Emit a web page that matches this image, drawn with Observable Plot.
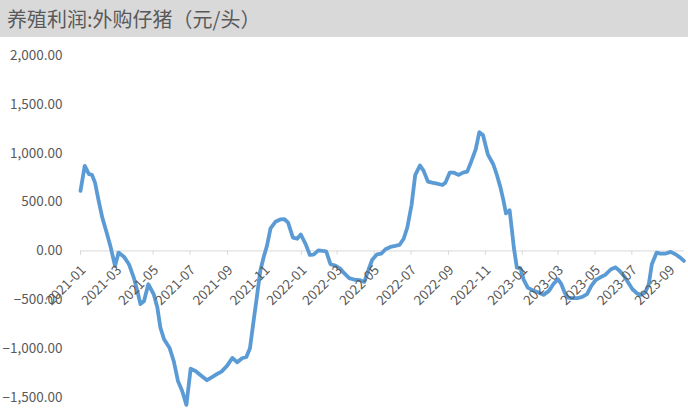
<!DOCTYPE html>
<html><head><meta charset="utf-8">
<script src="https://cdn.jsdelivr.net/npm/d3@7"></script>
<script src="https://cdn.jsdelivr.net/npm/@observablehq/plot@0.6"></script>
<style>
body{margin:0;background:#fff;width:688px;height:417px;overflow:hidden;font-family:"Noto Sans CJK SC","Noto Sans",sans-serif;}
#title{height:37px;background:#d9d9d9;color:#595959;font-size:20px;line-height:37px;padding-left:7px;white-space:nowrap;box-sizing:border-box;}
#chart svg{display:block;}
</style></head><body>
<div id="title">养殖利润:外购仔猪（元/头）</div>
<div id="chart"></div>
<script>
const dates = [
"2021-01-01","2021-01-08","2021-01-15","2021-01-20","2021-01-25","2021-01-31","2021-02-06","2021-02-14","2021-02-20","2021-02-27",
"2021-03-05","2021-03-14","2021-03-22","2021-03-30","2021-04-05","2021-04-10","2021-04-16","2021-04-23","2021-05-02","2021-05-08",
"2021-05-13","2021-05-19","2021-05-28","2021-06-04","2021-06-11","2021-06-18","2021-06-25","2021-07-02","2021-07-10","2021-07-18",
"2021-07-29","2021-08-07","2021-08-13","2021-08-22","2021-08-31","2021-09-09","2021-09-17","2021-09-25","2021-10-02","2021-10-08",
"2021-10-14","2021-10-20","2021-10-25","2021-10-31","2021-11-05","2021-11-11","2021-11-19","2021-11-27","2021-12-04","2021-12-10",
"2021-12-18","2021-12-25","2021-12-31","2022-01-08","2022-01-15","2022-01-21","2022-01-29","2022-02-05","2022-02-11","2022-02-18",
"2022-02-26","2022-03-06","2022-03-13","2022-03-21","2022-03-30","2022-04-07","2022-04-15","2022-04-22","2022-04-28","2022-05-06",
"2022-05-13","2022-05-20","2022-05-28","2022-06-05","2022-06-12","2022-06-19","2022-06-25","2022-07-02","2022-07-08","2022-07-16",
"2022-07-22","2022-07-29","2022-08-05","2022-08-13","2022-08-22","2022-08-27","2022-09-03","2022-09-10","2022-09-18","2022-09-25",
"2022-10-02","2022-10-09","2022-10-16","2022-10-22","2022-10-28","2022-11-05","2022-11-14","2022-11-20","2022-11-26","2022-12-01",
"2022-12-05","2022-12-11","2022-12-15","2022-12-18","2022-12-23","2022-12-29","2023-01-03","2023-01-10","2023-01-20","2023-01-28",
"2023-02-05","2023-02-14","2023-02-22","2023-03-01","2023-03-06","2023-03-12","2023-03-17","2023-03-24","2023-04-02","2023-04-10",
"2023-04-18","2023-04-25","2023-05-02","2023-05-10","2023-05-18","2023-05-27","2023-06-04","2023-06-11","2023-06-18","2023-06-25",
"2023-07-02","2023-07-10","2023-07-16","2023-07-23","2023-07-29","2023-08-03","2023-08-11","2023-08-17","2023-08-26","2023-09-03",
"2023-09-11","2023-09-19","2023-09-25"
];
const values = [
614,870,785,778,699,512,341,171,34,-153,
-17,-61,-136,-273,-409,-545,-512,-341,-443,-580,
-785,-904,-990,-1126,-1330,-1433,-1575,-1205,-1228,-1269,
-1323,-1289,-1265,-1235,-1177,-1095,-1140,-1098,-1085,-995,
-716,-443,-205,-55,50,230,298,322,324,290,
136,125,168,70,-41,-38,5,0,-5,-136,
-150,-180,-230,-278,-295,-298,-317,-190,-90,-34,
-27,17,41,51,61,125,240,470,775,875,
819,709,699,689,675,699,801,801,778,801,
812,921,1040,1215,1187,989,887,778,648,512,
385,416,205,34,-171,-177,-290,-375,-409,-426,
-450,-409,-334,-290,-334,-426,-477,-484,-484,-471,
-443,-358,-300,-270,-245,-190,-168,-205,-256,-324,
-392,-437,-450,-426,-341,-136,-17,-27,-27,-10,
-34,-68,-102
];
const yTicks = [-1500,-1000,-500,0,500,1000,1500,2000];
const xTickLabels = ["2021-01","2021-03","2021-05","2021-07","2021-09","2021-11",
"2022-01","2022-03","2022-05","2022-07","2022-09","2022-11",
"2023-01","2023-03","2023-05","2023-07","2023-09"];

const parseDay = d3.utcParse("%Y-%m-%d");
const parseMonth = d3.utcParse("%Y-%m");
const data = dates.map((d, i) => ({date: parseDay(d), value: values[i]}));
const font = '"Noto Sans CJK SC","Noto Sans",sans-serif';

const chart = Plot.plot({
  width: 688, height: 380,
  marginTop: 18, marginBottom: 20, marginLeft: 80, marginRight: 4,
  style: {fontFamily: font, fontSize: "13.5px", color: "#595959", background: "#fff"},
  x: {type: "utc", domain: [parseDay("2021-01-01"), parseDay("2023-09-26")], axis: null},
  y: {domain: [-1500, 2000], axis: null},
  marks: [
    Plot.axisY(yTicks, {tickSize: 0, tickPadding: 18, tickFormat: d3.format(",.2f"), label: null, fill: "#595959", fontSize: 13.5}),
    Plot.ruleY([0], {stroke: "#d9d9d9", strokeWidth: 1}),
    Plot.ruleX(xTickLabels, {x: d => parseMonth(d), y1: 0, y2: -45, stroke: "#d9d9d9"}),
    Plot.line(data, {x: "date", y: "value", stroke: "#5b9bd5", strokeWidth: 3.8, strokeLinejoin: "round", strokeLinecap: "round"}),
    Plot.text(xTickLabels, {x: d => parseMonth(d), y: d => 0, text: d => d, rotate: -45, textAnchor: "end", dx: 3, dy: 17, fill: "#595959", fontSize: 13.5})
  ]
});
document.getElementById("chart").appendChild(chart);
</script>
</body></html>
